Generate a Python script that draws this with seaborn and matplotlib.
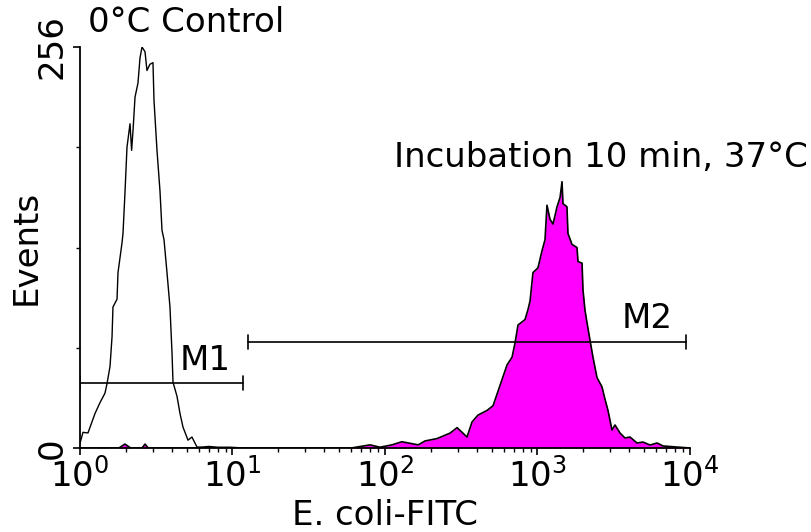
import matplotlib
matplotlib.use("Agg")
import matplotlib.pyplot as plt
import numpy as np
import pandas as pd
import seaborn as sns

# ---- data (FITC intensity, event counts) ----
control_fitc = [1.0, 1.046, 1.128, 1.254, 1.353, 1.458, 1.503, 1.573, 1.622, 1.645,
                1.749, 1.775, 1.886, 1.914, 1.972, 2.033, 2.128, 2.18, 2.228, 2.295,
                2.40, 2.474, 2.551, 2.668, 2.749, 2.876, 3.010, 3.056, 3.198, 3.346,
                3.449, 3.555, 3.719, 3.890, 4.011, 4.073, 4.326, 4.527, 4.733, 5.106,
                5.42, 5.85, 6.31, 7.0, 8.0, 9.6, 12.0]
control_events = [3, 10, 9.6, 22, 29, 35, 41, 52, 71, 90,
                  95, 112, 131, 137, 163, 192, 207, 190, 203, 224,
                  233, 249, 256, 253, 241, 245, 246, 222, 190, 164,
                  139, 133, 112, 90, 61, 42, 33, 22, 13.4, 5,
                  7, 0.6, 0.6, 1.0, 0.5, 0.5, 0]

incub_fitc = [1.0, 1.8, 1.97, 2.15, 2.55, 2.67, 2.8, 60, 79.8, 92.7,
              111, 129, 146, 165, 183, 219, 267, 297, 345, 372,
              407, 467, 511, 568, 631, 681, 712, 745, 828, 867,
              894, 934, 1007, 1071, 1120, 1154, 1208, 1264, 1343, 1406,
              1448, 1469, 1560, 1584, 1683, 1815, 1844, 1959, 1987, 2048,
              2112, 2208, 2311, 2455, 2648, 2773, 2899, 3080, 3222, 3474,
              3749, 4043, 4491, 4918, 5470, 6084, 6657, 8222, 10000]
incub_events = [0, 0, 2.5, 0, 0, 2.5, 0, 0, 2, 0.5,
                2, 4, 3, 2, 4.5, 6, 9.5, 13, 7, 16.6,
                21, 24, 27, 40, 53, 58, 67, 78.5, 82, 88.5,
                94, 112, 115, 126, 133, 155, 146, 143, 154, 160,
                170, 156, 154, 137, 130, 128, 119, 118, 101, 88,
                80, 69, 58, 45, 39, 31, 24, 11.5, 14.7, 9.6,
                6.4, 7, 3.2, 3.8, 1.9, 3.2, 1.3, 0.6, 0]

m1_range = [1.0, 11.7]
m2_range = [12.6, 9415]
m1_level = 41.5
m2_level = 67.7

x_ticks = [1, 10, 100, 1000, 10000]
x_tick_labels = [r"$10^{0}$", r"$10^{1}$", r"$10^{2}$", r"$10^{3}$", r"$10^{4}$"]
y_ticks = [0, 256]
y_tick_labels = ["0", "256"]
y_minor_ticks = [64, 128, 192]

control = pd.DataFrame({"fitc": control_fitc, "events": control_events})
incub = pd.DataFrame({"fitc": incub_fitc, "events": incub_events})

sns.set_theme(style="ticks")
plt.rcParams["font.family"] = ["DejaVu Sans"]
plt.rcParams["mathtext.fontset"] = "dejavusans"

W, H = 812, 532
fig = plt.figure(figsize=(W / 100, H / 100), dpi=100)
ax = fig.add_axes([80 / W, 84 / H, 610 / W, 401 / H])
ax.set_xscale("log")

FS = 24.5

ax.fill_between(incub["fitc"], 0, incub["events"], color="#ff00ff", lw=0, zorder=2)
sns.lineplot(data=incub, x="fitc", y="events", color="black", lw=1.2,
             estimator=None, sort=True, ax=ax, zorder=3)
sns.lineplot(data=control, x="fitc", y="events", color="black", lw=1.0,
             estimator=None, sort=True, ax=ax, zorder=4)

# markers M1, M2
cap = 4.5
for (a, b), lvl in ((m1_range, m1_level), (m2_range, m2_level)):
    ax.plot([a, b], [lvl, lvl], color="black", lw=1.2, zorder=5)
    ax.plot([a, a], [lvl - cap, lvl + cap], color="black", lw=1.2, zorder=5)
    ax.plot([b, b], [lvl - cap, lvl + cap], color="black", lw=1.2, zorder=5)
ax.text(4.53, 49.8, "M1", fontsize=FS, ha="left", va="baseline", color="black")
ax.text(3583, 76.6, "M2", fontsize=FS, ha="left", va="baseline", color="black")

ax.set_xlim(1, 10000)
ax.set_ylim(0, 256)

ax.set_xticks(x_ticks, x_tick_labels)
ax.xaxis.set_minor_locator(matplotlib.ticker.LogLocator(base=10, subs=np.arange(2, 10)))
ax.xaxis.set_minor_formatter(matplotlib.ticker.NullFormatter())
ax.set_yticks(y_ticks, y_tick_labels, rotation=90, va="center")
ax.set_yticks(y_minor_ticks, minor=True)

ax.tick_params(axis="x", which="major", length=5, width=1.2, color="black",
               labelsize=FS, labelcolor="black", direction="out", pad=2)
ax.tick_params(axis="y", which="major", length=5, width=1.2, color="black",
               labelsize=FS, labelcolor="black", direction="out", pad=3)
ax.tick_params(axis="both", which="minor", length=3, width=1.0, color="black",
               direction="out")

for s in ("top", "right"):
    ax.spines[s].set_visible(False)
for s in ("left", "bottom"):
    ax.spines[s].set_color("black")
    ax.spines[s].set_linewidth(1.3)
ax.set_facecolor("white")
ax.grid(False)

ax.set_xlabel("E. coli-FITC", fontsize=FS, color="black")
ax.set_ylabel("Events", fontsize=FS, color="black")
ax.xaxis.set_label_coords(0.5, (448 - 499) / 401)
ax.yaxis.set_label_coords((43 - 80) / 610, 0.5)

fig.text(88 / W, 1 - 32 / H, "0°C Control", fontsize=FS, ha="left", va="baseline",
         color="black")
fig.text(808 / W, 1 - 167 / H, "Incubation 10 min, 37°C", fontsize=FS, ha="right",
         va="baseline", color="black")

fig.savefig("out.png", dpi=100, facecolor="white")
